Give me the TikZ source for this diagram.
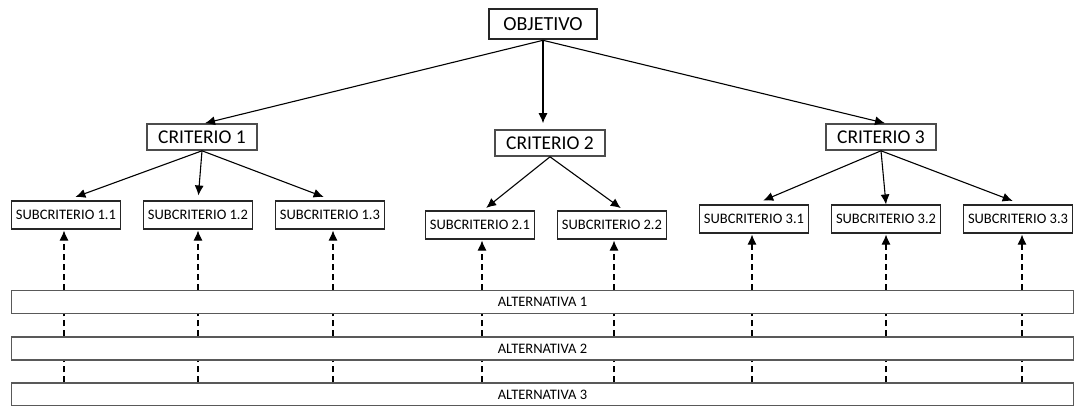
\documentclass[tikz,border=0pt]{standalone}
\usepackage{fontspec}
\setmainfont{Carlito}
\usetikzlibrary{arrows.meta,calc}
\begin{document}
\begin{tikzpicture}[x=1pt,y=-1pt,
  objbox/.style={draw=black!85,line width=2.6pt,minimum width=108pt,minimum height=30pt,inner sep=0pt,font=\fontsize{20}{22}\selectfont},
  critbox/.style={draw=black!70,line width=1.6pt,minimum width=110pt,minimum height=26pt,inner sep=0pt,font=\fontsize{19.5}{21}\selectfont},
  subbox/.style={draw=black!85,line width=1.1pt,minimum width=109pt,minimum height=28pt,inner sep=0pt,font=\fontsize{14.5}{16}\selectfont},
  altbox/.style={draw=black!65,line width=1.4pt,minimum width=1062pt,minimum height=23pt,inner sep=0pt,font=\fontsize{14.5}{16}\selectfont},
  arr/.style={-{Latex[length=10pt,width=9pt]},line width=1.1pt},
  darr/.style={-{Latex[length=10pt,width=9pt]},line width=1.1pt,dash pattern=on 6pt off 4pt},
  dline/.style={line width=1.1pt,dash pattern=on 6pt off 4pt}]
\useasboundingbox (0,0) rectangle (1076,406);
\node[objbox] (obj) at (543,24) {OBJETIVO};
\node[critbox] (c1) at (202,137) {CRITERIO 1};
\node[critbox] (c2) at (550,143) {CRITERIO 2};
\node[critbox] (c3) at (881,137) {CRITERIO 3};
\node[subbox] (s11) at (66,215) {SUBCRITERIO 1.1};
\node[subbox] (s12) at (198,215) {SUBCRITERIO 1.2};
\node[subbox] (s13) at (330,215) {SUBCRITERIO 1.3};
\node[subbox] (s21) at (480,225) {SUBCRITERIO 2.1};
\node[subbox] (s22) at (612,225) {SUBCRITERIO 2.2};
\node[subbox] (s31) at (754,219) {SUBCRITERIO 3.1};
\node[subbox] (s32) at (886,219) {SUBCRITERIO 3.2};
\node[subbox] (s33) at (1018,219) {SUBCRITERIO 3.3};
\node[altbox] (a1) at (542.5,302) {ALTERNATIVA 1};
\node[altbox] (a2) at (542.5,348.5) {ALTERNATIVA 2};
\node[altbox] (a3) at (542.5,394.5) {ALTERNATIVA 3};
% objective to criteria
\draw[arr] (obj.south) -- ($(c1.north)+(3,0)$);
\draw[arr,shorten >=6pt] (obj.south) -- (c2.north -| obj.south);
\draw[arr] (obj.south) -- ($(c3.north)+(4,0)$);
% criteria to subcriteria
\draw[arr,shorten >=10pt] (c1.south) -- (s11.north);
\draw[arr,shorten >=5pt] (c1.south) -- (s12.north);
\draw[arr,shorten >=10pt] (c1.south) -- ($(s13.north)+(3,0)$);
\draw[arr,shorten >=4pt] (c2.south) -- ($(s21.north)+(3,0)$);
\draw[arr,shorten >=4pt] (c2.south) -- ($(s22.north)+(12,0)$);
\draw[arr,shorten >=10pt] (c3.south) -- (s31.north);
\draw[arr,shorten >=0pt] (c3.south) -- (s32.north);
\draw[arr,shorten >=10pt] (c3.south) -- ($(s33.north)+(4,0)$);
% alternatives to subcriteria
\foreach \s/\dx in {s11/-2,s12/0,s13/3,s21/2,s22/2,s31/-2,s32/0,s33/4}{
  \draw[darr] ($(a1.north -| \s.south)+(\dx,0)$) -- ($(\s.south)+(\dx,1)$);
  \draw[dline] ($(a2.north -| \s.south)+(\dx,0)$) -- ($(a1.south -| \s.south)+(\dx,0)$);
  \draw[dline] ($(a3.north -| \s.south)+(\dx,0)$) -- ($(a2.south -| \s.south)+(\dx,0)$);
}
\end{tikzpicture}
\end{document}
